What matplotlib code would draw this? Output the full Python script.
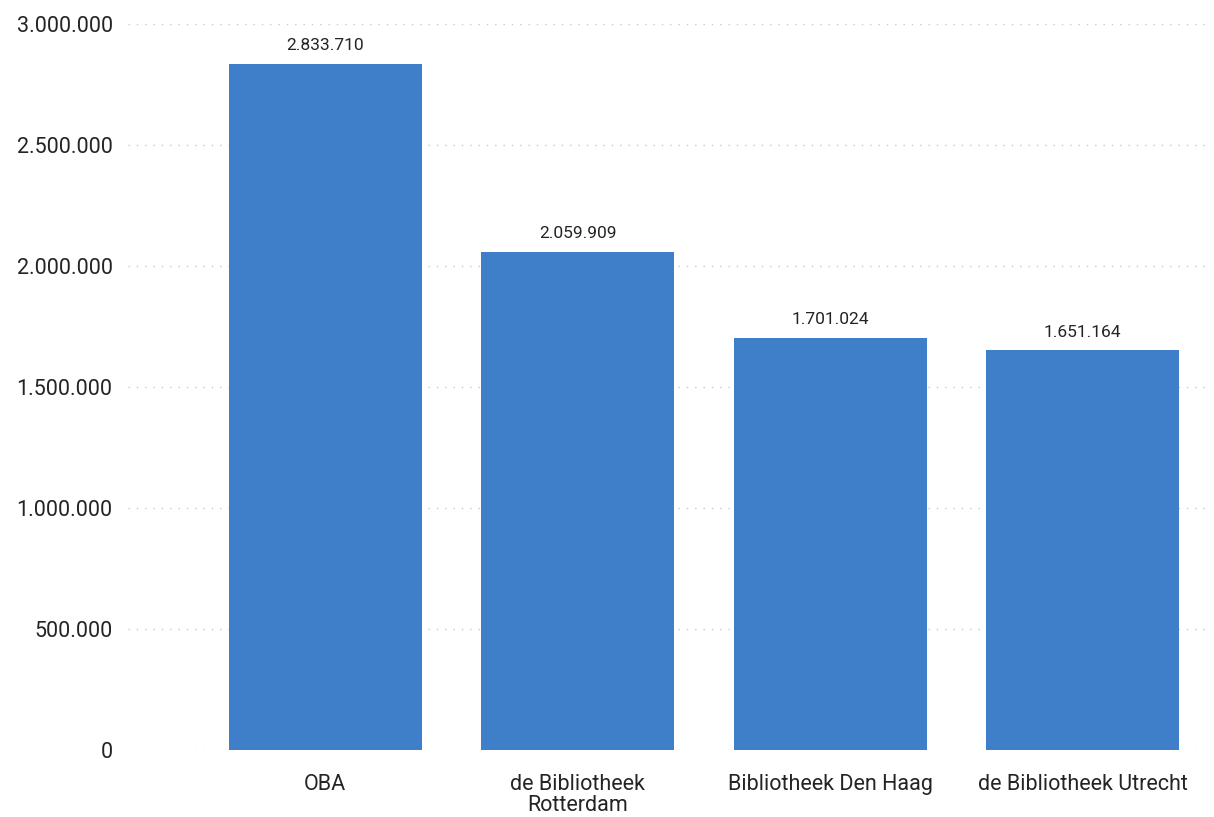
import matplotlib.pyplot as plt
from matplotlib.ticker import FuncFormatter

plt.rcParams['font.family'] = ['Roboto', 'DejaVu Sans']

libraries = ['OBA', 'de Bibliotheek\nRotterdam', 'Bibliotheek Den Haag', 'de Bibliotheek Utrecht']
visitors = [2833710, 2059909, 1701024, 1651164]
y_ticks = [0, 500000, 1000000, 1500000, 2000000, 2500000, 3000000]


def dots(v, pos=None):
    return f'{int(v):,}'.replace(',', '.')


fig = plt.figure(figsize=(12.14, 8.17), dpi=100)
ax = fig.add_axes([0.1054, 0.082, 0.8926, 0.8886])

x = range(len(libraries))
bars = ax.bar(x, visitors, width=0.764, color='#3F7FCA', zorder=2)

for b, v in zip(bars, visitors):
    ax.text(b.get_x() + b.get_width() / 2, v + 45000, dots(v),
            ha='center', va='bottom', fontsize=12.5, color='#252423')

ax.set_xlim(-0.782, 3.511)
ax.set_ylim(0, 3000000)
ax.set_yticks(y_ticks)
ax.yaxis.set_major_formatter(FuncFormatter(dots))
ax.set_xticks(list(x))
ax.set_xticklabels(libraries, fontsize=15.5, color='#252423', linespacing=1.05)
ax.tick_params(axis='y', labelsize=15.5, labelcolor='#252423', length=0, pad=11)
ax.tick_params(axis='x', length=0, pad=17)

ax.grid(axis='y', linestyle=(0, (1, 5)), color='#C8C8C8', linewidth=1, zorder=0)
ax.set_axisbelow(True)
for s in ax.spines.values():
    s.set_visible(False)

fig.savefig('out.png', dpi=100)
